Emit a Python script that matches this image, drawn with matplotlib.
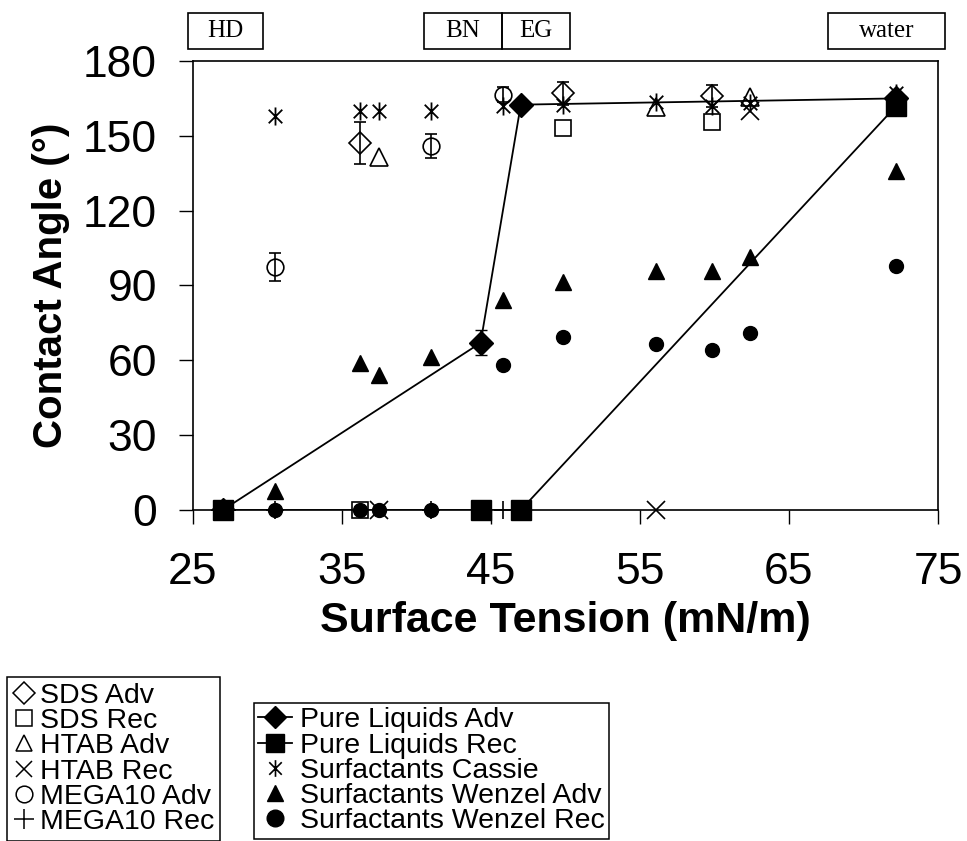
import matplotlib
matplotlib.use('Agg')
import matplotlib.pyplot as plt
from matplotlib.lines import Line2D
from matplotlib.patches import Rectangle
from matplotlib.path import Path

W, H = 967, 841
plt.rcParams['font.family'] = ['Liberation Sans', 'DejaVu Sans']

# pure liquids (HD, BN, EG, water)
liq_names = ['HD', 'BN', 'EG', 'water']
liq_st = [27.0, 44.3, 47.0, 72.2]
liq_adv = [0, 67, 162.5, 165]
liq_adv_err = [0, 5, 1.5, 0]
liq_rec = [0, 0, 0, 162]

# surfactant solutions
surf_st = [30.5, 36.2, 37.5, 41.0, 45.8, 49.8, 56.1, 59.8, 62.4, 72.2]
cassie = [158, 160, 160, 160, 162, 162.5, 163.5, 162, 163, 167]
wenzel_adv = [7.6, 59, 54, 61.5, 84, 91.6, 96, 96, 101.5, 136]
wenzel_rec = [0, 0, 0, 0, 58.2, 69.5, 66.7, 64.3, 70.8, 98]

sds_st = [36.2, 49.8, 59.8]
sds_adv = [147, 167, 166]
sds_adv_err = [8.4, 4.5, 4.5]
sds_rec = [0, 153, 155.5]

htab_st = [37.5, 56.1, 62.4]
htab_adv = [141.5, 161.5, 165.5]
htab_rec = [0, 0, 160]

mega_st = [30.5, 41.0, 45.8]
mega_adv = [97.5, 146, 166.5]
mega_adv_err = [5.5, 4.8, 3]
mega_rec = [0, 0, 0]

x_ticks = [25, 35, 45, 55, 65, 75]
y_ticks = [0, 30, 60, 90, 120, 150, 180]

# asterisk = X plus a vertical stroke
ASTER = Path([(0, -1), (0, 1), (-0.75, -0.75), (0.75, 0.75), (-0.75, 0.75), (0.75, -0.75)],
             [Path.MOVETO, Path.LINETO] * 3)

fig = plt.figure(figsize=(W / 100, H / 100), dpi=100)
ax = fig.add_axes([193 / W, 1 - 510 / H, (938 - 193) / W, (510 - 61) / H])

# lines for pure liquids
ax.plot(liq_st, liq_adv, 'k-', lw=1.3, zorder=2)
ax.plot(liq_st, liq_rec, 'k-', lw=1.3, zorder=2)

# surfactant open markers
ax.errorbar(sds_st, sds_adv, yerr=sds_adv_err, fmt='D', ms=11, mfc='none', mec='k',
            mew=1.2, ecolor='k', elinewidth=1.2, capsize=4, zorder=3)
ax.plot(sds_st, sds_rec, 's', ms=12, mfc='none', mec='k', mew=1.2, zorder=3, clip_on=False)
ax.plot(htab_st, htab_adv, '^', ms=13, mfc='none', mec='k', mew=1.2, zorder=3)
ax.plot(htab_st, htab_rec, 'x', ms=13, mec='k', mew=1.2, zorder=3, clip_on=False)
ax.errorbar(mega_st, mega_adv, yerr=mega_adv_err, fmt='o', ms=12, mfc='none', mec='k',
            mew=1.2, ecolor='k', elinewidth=1.2, capsize=4, zorder=3)
ax.plot(mega_st, mega_rec, '+', ms=13, mec='k', mew=1.2, zorder=3, clip_on=False)

# surfactant model predictions
ax.plot(surf_st, cassie, ls='none', marker=ASTER, ms=13, mec='k', mew=1.3, zorder=4)
ax.plot(surf_st, wenzel_adv, '^', ms=11, color='k', zorder=4)
ax.plot(surf_st, wenzel_rec, 'o', ms=10, color='k', zorder=4, clip_on=False)

# pure liquid markers
ax.errorbar(liq_st, liq_adv, yerr=liq_adv_err, fmt='D', ms=12, color='k',
            ecolor='k', elinewidth=1.2, capsize=4, zorder=5)
ax.plot(liq_st, liq_rec, 's', ms=14, color='k', zorder=6, clip_on=False)

ax.set_xlim(25, 75)
ax.set_ylim(0, 180)
ax.set_xticks(x_ticks)
ax.set_yticks(y_ticks)
ax.tick_params(axis='both', direction='out', length=10, width=1, labelsize=32)
ax.tick_params(axis='x', pad=20)
ax.tick_params(axis='y', pad=16)
for s in ax.spines.values():
    s.set_linewidth(1.2)
ax.set_xlabel('Surface Tension (mN/m)', fontsize=31, fontweight='bold', labelpad=6)
ax.set_ylabel('Contact Angle (°)', fontsize=29, fontweight='bold', labelpad=9)

# liquid name boxes above the plot
boxes = [(188, 263), (424, 502), (502, 570), (828, 945)]
for name, (x0, x1) in zip(liq_names, boxes):
    fig.patches.append(Rectangle((x0 / W, 1 - 49 / H), (x1 - x0) / W, 36 / H,
                                 transform=fig.transFigure, fill=False, ec='k', lw=1.2))
    fig.text((x0 + x1) / 2 / W, 1 - 31 / H, name, ha='center', va='center',
             fontsize=18, family='Liberation Serif')

# legends
h_left = [
    Line2D([], [], ls='none', marker='D', ms=11, mfc='none', mec='k', mew=1.1),
    Line2D([], [], ls='none', marker='s', ms=12, mfc='none', mec='k', mew=1.1),
    Line2D([], [], ls='none', marker='^', ms=12, mfc='none', mec='k', mew=1.1),
    Line2D([], [], ls='none', marker='x', ms=12, mec='k', mew=1.1),
    Line2D([], [], ls='none', marker='o', ms=12, mfc='none', mec='k', mew=1.1),
    Line2D([], [], ls='none', marker='+', ms=14, mec='k', mew=1.1),
]
l_left = ['SDS Adv', 'SDS Rec', 'HTAB Adv', 'HTAB Rec', 'MEGA10 Adv', 'MEGA10 Rec']
leg1 = fig.legend(h_left, l_left, loc='upper left', bbox_to_anchor=(7 / W, 1 - 677 / H),
                  bbox_transform=fig.transFigure, borderaxespad=0, fontsize=20.5,
                  handlelength=0.8, handletextpad=0.15, labelspacing=-0.025,
                  borderpad=0.2, fancybox=False, edgecolor='k', framealpha=1)
leg1.get_frame().set_linewidth(1.1)

h_right = [
    Line2D([], [], color='k', lw=1.3, marker='D', ms=11),
    Line2D([], [], color='k', lw=1.3, marker='s', ms=13),
    Line2D([], [], ls='none', marker=ASTER, ms=12, mec='k', mew=1.2),
    Line2D([], [], ls='none', marker='^', ms=12, color='k'),
    Line2D([], [], ls='none', marker='o', ms=12, color='k'),
]
l_right = ['Pure Liquids Adv', 'Pure Liquids Rec', 'Surfactants Cassie',
           'Surfactants Wenzel Adv', 'Surfactants Wenzel Rec']
leg2 = fig.legend(h_right, l_right, loc='upper left', bbox_to_anchor=(254 / W, 1 - 703 / H),
                  bbox_transform=fig.transFigure, borderaxespad=0, fontsize=20.5,
                  handlelength=1.2, handletextpad=0.25, labelspacing=-0.025,
                  borderpad=0.15, fancybox=False, edgecolor='k', framealpha=1)
leg2.get_frame().set_linewidth(1.1)

fig.savefig('out.png', dpi=100)
